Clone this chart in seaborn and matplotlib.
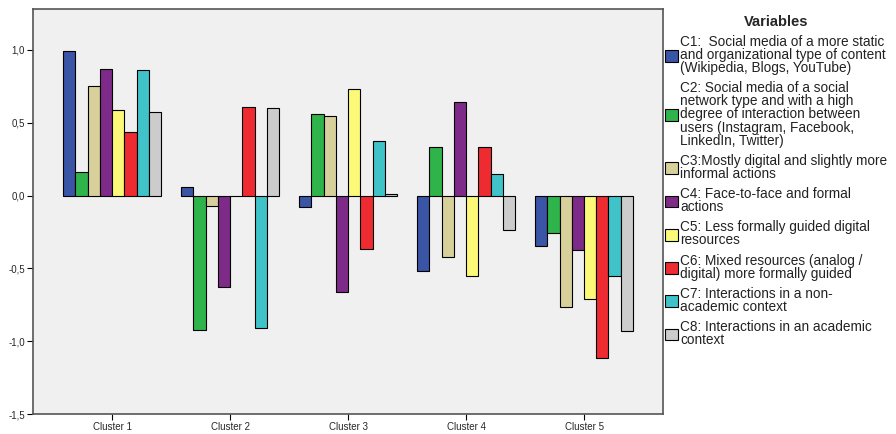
import matplotlib
matplotlib.use("Agg")
import matplotlib.pyplot as plt
import matplotlib.ticker as mticker
import seaborn as sns
import pandas as pd

clusters = ["Cluster 1", "Cluster 2", "Cluster 3", "Cluster 4", "Cluster 5"]
variables = ["C1", "C2", "C3", "C4", "C5", "C6", "C7", "C8"]
legend_labels = [
    "C1:  Social media of a more static\nand organizational type of content\n(Wikipedia, Blogs, YouTube)",
    "C2: Social media of a social\nnetwork type and with a high\ndegree of interaction between\nusers (Instagram, Facebook,\nLinkedIn, Twitter)",
    "C3:Mostly digital and slightly more\ninformal actions",
    "C4: Face-to-face and formal\nactions",
    "C5: Less formally guided digital\nresources",
    "C6: Mixed resources (analog /\ndigital) more formally guided",
    "C7: Interactions in a non-\nacademic context",
    "C8: Interactions in an academic\ncontext",
]
c1 = [0.99, 0.06, -0.08, -0.52, -0.345]
c2 = [0.16, -0.92, 0.56, 0.33, -0.26]
c3 = [0.75, -0.075, 0.545, -0.42, -0.765]
c4 = [0.87, -0.625, -0.66, 0.64, -0.375]
c5 = [0.59, 0.0, 0.73, -0.55, -0.71]
c6 = [0.435, 0.61, -0.37, 0.33, -1.115]
c7 = [0.86, -0.91, 0.375, 0.15, -0.555]
c8 = [0.575, 0.60, 0.01, -0.235, -0.93]
colors = ["#3a54a6", "#2fb44b", "#d8d09a", "#7e2a88", "#fbf977", "#ee2b30", "#3fc3c8", "#cccccc"]

series = [c1, c2, c3, c4, c5, c6, c7, c8]
rows = []
for v, vals in zip(variables, series):
    for c, val in zip(clusters, vals):
        rows.append({"cluster": c, "variable": v, "value": val})
df = pd.DataFrame(rows)

sns.set_style("white")
plt.rcParams["font.family"] = ["Liberation Sans", "DejaVu Sans"]

fig = plt.figure(figsize=(8.96, 4.34), dpi=100)
ax = fig.add_axes([0.037, 0.046, 0.703, 0.933])
ax.set_facecolor("#f0f0f0")

sns.barplot(data=df, x="cluster", y="value", hue="variable", order=clusters,
            hue_order=variables, palette=colors, edgecolor="black", linewidth=0.8,
            width=0.83, dodge=True, ax=ax, legend=True, saturation=1)

ax.set_xlim(-0.67, 4.67)
ax.set_ylim(-1.5, 1.28)
ax.set_yticks([-1.5, -1.0, -0.5, 0.0, 0.5, 1.0])
ax.set_yticklabels([f"{v:.1f}".replace(".", ",") for v in [-1.5, -1.0, -0.5, 0.0, 0.5, 1.0]])
ax.set_xlabel("")
ax.set_ylabel("")
ax.tick_params(axis="both", labelsize=7, length=4, width=0.8, color="black", direction="out",
               left=True, bottom=True, pad=2)
for s in ax.spines.values():
    s.set_color("#555555")
    s.set_linewidth(1.2)

handles, _ = ax.get_legend_handles_labels()
leg = ax.legend(handles, legend_labels, title="Variables", loc="upper left",
                bbox_to_anchor=(0.998, 0.993), frameon=False, fontsize=9.8,
                title_fontproperties={"weight": "bold", "size": 10.5},
                handlelength=1.0, handleheight=0.95, handletextpad=0.15,
                labelspacing=0.45, borderaxespad=0.0, borderpad=0.2)
for t in leg.get_texts():
    t.set_linespacing(0.92)
    t.set_color("#222222")
for h in leg.legend_handles:
    h.set_edgecolor("black")
    h.set_linewidth(0.8)

fig.savefig("out.png", dpi=100)
